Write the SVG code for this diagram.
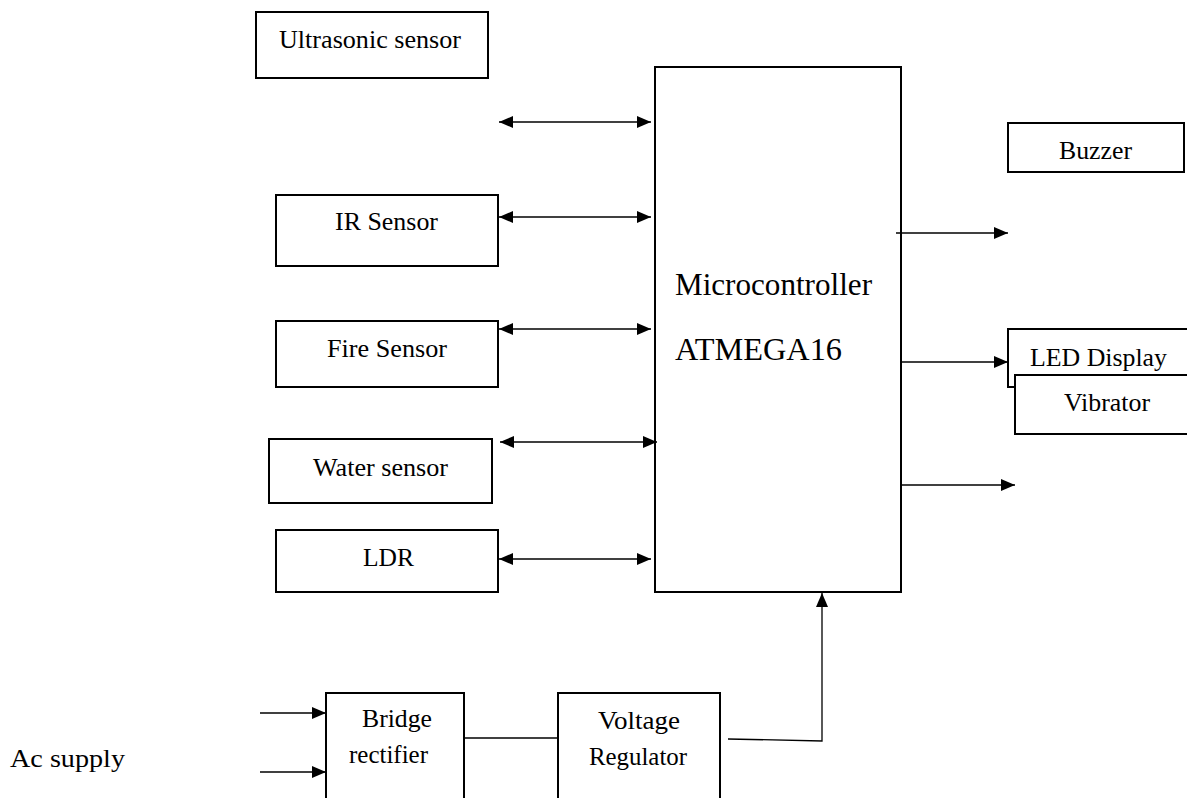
<svg xmlns="http://www.w3.org/2000/svg" width="1187" height="798" viewBox="0 0 1187 798">
<style>
.box{fill:#fff;stroke:#000;stroke-width:2}
.t{font-family:"Liberation Serif","Times New Roman",serif;font-size:26px;fill:#000}
.big{font-size:31px}
.ln{fill:none;stroke:#000;stroke-width:1.3}
</style>
<defs>
<marker id="ah" viewBox="0 0 14 12" refX="14" refY="6" markerWidth="14" markerHeight="12" markerUnits="userSpaceOnUse" orient="auto-start-reverse"><path d="M0,0 L14,6 L0,12 Z" fill="#000"/></marker>
</defs>
<rect width="1187" height="798" fill="#fff"/>
<g id="ultrasonic"><rect class="box" x="256" y="12" width="232" height="66"/><text class="t" x="279" y="48" textLength="182" lengthAdjust="spacingAndGlyphs">Ultrasonic sensor</text></g>
<g id="ir"><rect class="box" x="276" y="195" width="222" height="71"/><text class="t" x="335" y="230" textLength="103" lengthAdjust="spacingAndGlyphs">IR Sensor</text></g>
<g id="fire"><rect class="box" x="276" y="321" width="222" height="66"/><text class="t" x="327" y="357" textLength="120" lengthAdjust="spacingAndGlyphs">Fire Sensor</text></g>
<g id="water"><rect class="box" x="269" y="439" width="223" height="64"/><text class="t" x="313" y="476" textLength="135" lengthAdjust="spacingAndGlyphs">Water sensor</text></g>
<g id="ldr"><rect class="box" x="276" y="530" width="222" height="62"/><text class="t" x="363" y="566" textLength="51" lengthAdjust="spacingAndGlyphs">LDR</text></g>
<g id="mcu"><rect class="box" x="655" y="67" width="246" height="525"/><text class="t big" x="675" y="295" textLength="197" lengthAdjust="spacingAndGlyphs">Microcontroller</text><text class="t big" x="675" y="360" textLength="167" lengthAdjust="spacingAndGlyphs">ATMEGA16</text></g>
<g id="buzzer"><rect class="box" x="1008" y="123" width="176" height="49"/><text class="t" x="1059" y="159" textLength="73" lengthAdjust="spacingAndGlyphs">Buzzer</text></g>
<g id="led"><rect class="box" x="1008" y="329" width="185" height="58"/><text class="t" x="1030" y="366" textLength="137" lengthAdjust="spacingAndGlyphs">LED Display</text></g>
<g id="vibrator"><rect class="box" x="1015" y="375" width="178" height="59"/><text class="t" x="1064" y="411" textLength="86" lengthAdjust="spacingAndGlyphs">Vibrator</text></g>
<g id="bridge"><rect class="box" x="326" y="693" width="138" height="110"/><text class="t" x="362" y="727" textLength="70" lengthAdjust="spacingAndGlyphs">Bridge</text><text class="t" x="349" y="763" textLength="79" lengthAdjust="spacingAndGlyphs">rectifier</text></g>
<g id="regulator"><rect class="box" x="558" y="693" width="162" height="110"/><text class="t" x="598" y="729" textLength="82" lengthAdjust="spacingAndGlyphs">Voltage</text><text class="t" x="589" y="765" textLength="98" lengthAdjust="spacingAndGlyphs">Regulator</text></g>
<g id="acsupply"><text class="t" x="10" y="767" textLength="115" lengthAdjust="spacingAndGlyphs">Ac supply</text></g>
<g id="connectors">
<line class="ln" x1="499" y1="122" x2="651" y2="122" marker-start="url(#ah)" marker-end="url(#ah)"/>
<line class="ln" x1="499" y1="217" x2="651" y2="217" marker-start="url(#ah)" marker-end="url(#ah)"/>
<line class="ln" x1="499" y1="329" x2="651" y2="329" marker-start="url(#ah)" marker-end="url(#ah)"/>
<line class="ln" x1="500" y1="442" x2="657" y2="442" marker-start="url(#ah)" marker-end="url(#ah)"/>
<line class="ln" x1="499" y1="559" x2="651" y2="559" marker-start="url(#ah)" marker-end="url(#ah)"/>
<line class="ln" x1="896" y1="233" x2="1008" y2="233" marker-end="url(#ah)"/>
<line class="ln" x1="901" y1="362" x2="1008" y2="362" marker-end="url(#ah)"/>
<line class="ln" x1="901" y1="485" x2="1015" y2="485" marker-end="url(#ah)"/>
<line class="ln" x1="260" y1="713" x2="326" y2="713" marker-end="url(#ah)"/>
<line class="ln" x1="260" y1="772" x2="326" y2="772" marker-end="url(#ah)"/>
<line class="ln" x1="464" y1="738" x2="558" y2="738"/>
<polyline class="ln" points="728,739 822,741 822,593" marker-end="url(#ah)"/>
</g>
</svg>
